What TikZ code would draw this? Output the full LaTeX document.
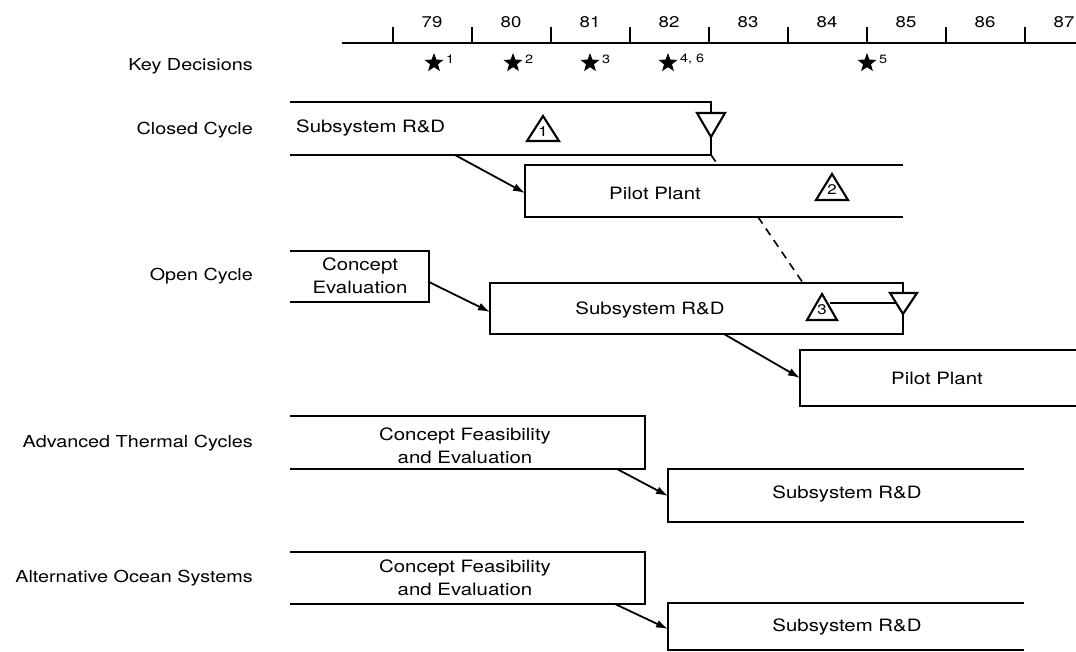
\documentclass[tikz,border=0pt]{standalone}
\usepackage{fontspec}
\setmainfont{TeX Gyre Heros}[FakeStretch=1.2]
\usetikzlibrary{arrows.meta,shapes.geometric,positioning}

\tikzset{
  bar/.style={line width=2.1pt},
  lbl/.style={font=\fontsize{16.5}{20}\selectfont, anchor=east, inner sep=0pt},
  txt/.style={font=\fontsize{17}{23}\selectfont, align=center, inner sep=0pt},
  conn/.style={line width=1.8pt, -{Latex[length=12pt,width=8pt]}},
  link/.style={line width=1.6pt, dash pattern=on 8pt off 6pt},
  dstar/.style={star, star points=5, star point ratio=2.4, fill=black, inner sep=0pt, minimum size=20pt},
  milenum/.style={font=\fontsize{14}{14}\selectfont, inner sep=0pt}
}

\begin{document}
\begin{tikzpicture}[x=1pt,y=-1pt]
  \useasboundingbox (0,0) rectangle (1076,652);

  % time axis
  \draw[bar] (342,43) -- (1076,43);
  \foreach \i in {0,...,8}
    \draw[bar] (393+79*\i,43) -- ++(0,-16);
  \foreach \yr [count=\i from 0] in {79,...,87}
    \node[font=\fontsize{15.5}{16}\selectfont] (yr-\yr) at (432+79*\i,22) {\yr};

  % key decisions
  \foreach \sx/\num [count=\k] in {434/1, 513/2, 590/3, 668/{4, 6}, 867/5}
    {
    \node[dstar] (kd-\k) at (\sx,63) {};
    \node[font=\fontsize{12}{12}\selectfont, anchor=west, inner sep=0pt] (kdn-\k) at (\sx+12,59) {\num};
    }

  % row labels
  \node[lbl] (lab-key) at (253,66) {Key Decisions};
  \node[lbl] (lab-closed) at (253,130) {Closed Cycle};
  \node[lbl] (lab-open) at (253,276) {Open Cycle};
  \node[lbl] (lab-adv) at (253,443) {Advanced Thermal Cycles};
  \node[lbl] (lab-alt) at (253,578) {Alternative Ocean Systems};

  % closed cycle
  \draw[bar] (290,102) -- (711,102) -- (711,113) (711,137) -- (711,155) -- (290,155);
  \draw[bar] (697,113) -- (725,113) -- (711,137) -- cycle;
  \node[txt, anchor=west] (cc-rd) at (296,128) {Subsystem R\&D};
  \draw[bar] (527,141) -- (543,116) -- (559,141) -- cycle;
  \node[milenum] (ms-1) at (543,132) {1};
  \coordinate (cc-rd-out) at (455,155);
  \coordinate (cc-rd-end) at (711,155);

  \draw[bar] (903,165) -- (525,165) -- (525,217) -- (903,217);
  \node[txt] (cc-pp) at (655,193) {Pilot Plant};
  \draw[bar] (816,200) -- (832,174) -- (848,200) -- cycle;
  \node[milenum] (ms-2) at (832,190) {2};
  \coordinate (cc-pp-in) at (525,193);
  \coordinate (cc-pp-top) at (718,165);
  \coordinate (cc-pp-out) at (758,217);

  % open cycle
  \draw[bar] (290,251) -- (429,251) -- (429,302) -- (290,302);
  \node[txt] (oc-ce) at (360,276) {Concept\\Evaluation};
  \coordinate (oc-ce-out) at (429,282);

  \draw[bar] (903,293) -- (903,283) -- (490,283) -- (490,334) -- (903,334) -- (903,314);
  \draw[bar] (890,293) -- (917,293) -- (903,314) -- cycle;
  \node[txt] (oc-rd) at (650,310) {Subsystem R\&D};
  \draw[bar] (807,320) -- (822,294) -- (837,320) -- cycle;
  \node[milenum] (ms-3) at (822,310) {3};
  \draw[bar] (830,303) -- (896,303);
  \coordinate (oc-rd-in) at (490,312);
  \coordinate (oc-rd-top) at (803,283);
  \coordinate (oc-rd-out) at (724,334);

  \draw[bar] (1076,350) -- (800,350) -- (800,406) -- (1076,406);
  \node[txt] (oc-pp) at (937,378) {Pilot Plant};
  \coordinate (oc-pp-in) at (800,378);

  % advanced thermal cycles
  \draw[bar] (290,416) -- (645,416) -- (645,469) -- (290,469);
  \node[txt] (at-ce) at (465,446) {Concept Feasibility\\and Evaluation};
  \coordinate (at-ce-out) at (617,469);
  \draw[bar] (1024,469) -- (668,469) -- (668,522) -- (1024,522);
  \node[txt] (at-rd) at (847,494) {Subsystem R\&D};
  \coordinate (at-rd-in) at (668,496);

  % alternative ocean systems
  \draw[bar] (290,552) -- (645,552) -- (645,604) -- (290,604);
  \node[txt] (ao-ce) at (465,578) {Concept Feasibility\\and Evaluation};
  \coordinate (ao-ce-out) at (615,604);
  \draw[bar] (1024,603) -- (668,603) -- (668,650) -- (1024,650);
  \node[txt] (ao-rd) at (847,627) {Subsystem R\&D};
  \coordinate (ao-rd-in) at (668,629);

  % connectors
  \draw[conn] (cc-rd-out) -- (cc-pp-in);
  \draw[conn] (oc-ce-out) -- (oc-rd-in);
  \draw[conn] (oc-rd-out) -- (oc-pp-in);
  \draw[conn] (at-ce-out) -- (at-rd-in);
  \draw[conn] (ao-ce-out) -- (ao-rd-in);
  \draw[link] (cc-rd-end) -- (cc-pp-top);
  \draw[link] (cc-pp-out) -- (oc-rd-top);

\end{tikzpicture}
\end{document}
